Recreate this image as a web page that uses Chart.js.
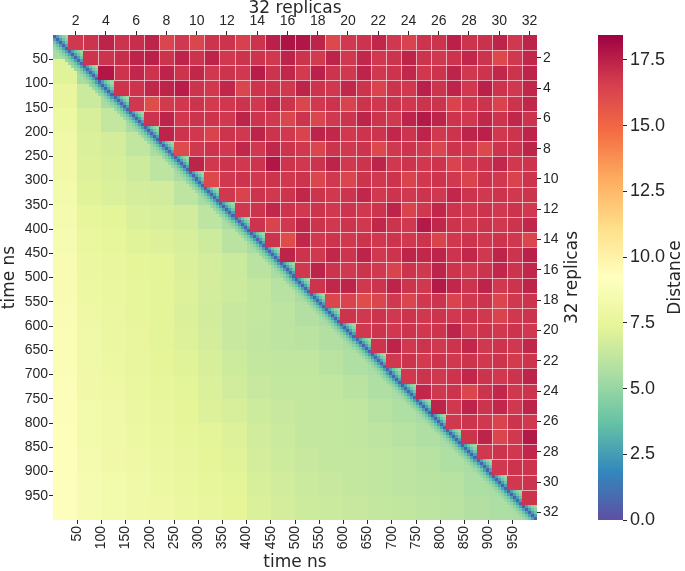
<!DOCTYPE html>
<html>
<head>
<meta charset="utf-8">
<script src="https://cdn.jsdelivr.net/npm/chart.js@4.4.1/dist/chart.umd.min.js"></script>
<style>
  html, body { margin: 0; padding: 0; background: #fff; }
  canvas { display: block; }
</style>
</head>
<body>
<canvas id="chart" width="685" height="571"></canvas>
<script>
// tick labels
const timeTicks = [50, 100, 150, 200, 250, 300, 350, 400, 450, 500, 550, 600, 650, 700, 750, 800, 850, 900, 950];
const replicaTicks = [2, 4, 6, 8, 10, 12, 14, 16, 18, 20, 22, 24, 26, 28, 30, 32];
const distanceTicks = [0, 2.5, 5, 7.5, 10, 12.5, 15, 17.5];
const distanceMax = 18.45;
const timeMax = 1000;
const replicaCount = 32;

// replica-replica distance, upper triangle: row a holds columns a+1 .. 32
const replicaDist = [
  [16.8,16.9,17.4,16.9,17.1,17.4,16.3,16.8,16.3,16.9,16.9,16.5,16.9,17.5,17.9,17.8,17.4,16.2,16.8,16.9,17.3,16.8,16.4,16.9,16.9,17.5,16.9,17.0,17.4,16.8,17.4],
  [16.9,16.9,17.1,17.4,17.5,16.9,17.4,16.9,17.4,16.8,16.9,16.9,16.8,17.4,16.9,16.7,17.4,16.8,17.3,16.8,16.9,17.4,16.9,16.8,16.9,17.3,16.9,16.2,16.8,17.3],
  [17.8,16.9,17.3,16.9,17.4,16.9,17.3,16.8,16.9,16.8,17.6,16.9,17.3,16.7,17.5,16.9,16.8,17.4,16.8,16.9,17.3,16.8,16.9,17.4,16.8,16.9,17.3,16.9,17.4],
  [16.9,16.9,17.3,17.4,17.6,16.9,16.8,17.3,16.3,16.9,16.9,16.8,17.4,16.9,16.8,17.3,16.9,16.4,16.9,16.8,17.5,16.9,17.4,16.8,17.5,16.9,16.8,17.3],
  [16.8,16.0,16.7,16.8,16.9,16.7,16.8,16.9,16.8,17.3,16.9,16.3,16.8,16.9,16.4,16.9,16.8,16.9,16.8,16.9,16.9,16.4,16.8,16.9,16.4,16.9,17.3],
  [16.9,17.4,16.8,16.9,16.9,16.8,17.4,16.9,16.8,16.3,16.9,16.3,16.8,16.9,17.4,16.9,16.8,17.4,17.7,17.4,16.9,16.8,17.3,16.9,17.3,16.9],
  [17.4,16.9,16.8,16.4,16.9,16.8,17.4,16.9,16.8,16.4,17.4,17.3,16.8,16.9,16.9,17.3,16.9,17.4,16.8,16.9,17.4,17.5,16.8,16.9,17.4],
  [16.1,16.8,16.9,16.8,17.3,16.8,17.3,16.9,16.8,16.3,16.9,16.8,16.9,16.2,16.8,16.9,16.8,16.3,16.9,16.8,16.2,16.9,16.9,17.4],
  [17.4,16.8,16.9,16.8,16.9,17.8,16.9,16.8,16.9,17.4,16.8,16.9,17.4,16.8,16.9,16.8,16.9,16.4,16.8,16.9,17.3,16.8,16.9],
  [16.2,16.8,16.9,16.8,16.9,16.8,16.9,16.3,16.8,16.3,16.9,16.8,16.9,16.4,16.8,16.9,16.8,16.4,16.9,16.8,16.4,16.9],
  [16.8,16.4,16.9,16.8,16.9,17.3,16.9,16.8,16.9,17.3,16.8,16.9,16.8,16.9,16.8,17.3,16.9,16.8,16.9,16.8,16.9],
  [16.8,16.9,17.3,16.9,16.8,16.9,16.8,16.9,16.8,16.9,17.4,16.4,16.8,17.3,16.9,16.8,16.9,16.8,16.9,16.8],
  [16.9,16.4,16.8,17.3,16.9,16.8,16.9,16.8,17.3,16.9,16.8,17.7,17.3,16.9,16.8,16.9,16.8,16.9,17.3],
  [16.9,16.0,17.3,16.8,16.9,16.8,16.9,16.8,16.9,16.8,16.9,16.4,16.8,16.9,16.8,16.9,16.8,16.3],
  [17.4,16.9,16.8,17.3,16.9,17.4,16.8,16.9,17.4,17.3,17.4,16.9,17.3,16.8,17.4,16.9,17.5],
  [16.8,17.4,16.9,16.8,16.9,16.8,16.4,16.9,16.8,17.4,16.9,16.8,16.9,17.3,16.9,17.3],
  [16.9,17.3,17.4,16.8,16.9,17.4,16.9,16.8,17.7,17.3,16.9,17.4,16.8,16.9,17.4],
  [16.3,16.4,16.0,16.3,16.8,16.3,16.8,16.9,16.4,16.8,16.9,16.3,16.8,16.9],
  [16.9,16.8,16.9,16.8,16.9,16.8,16.9,16.8,16.9,16.8,16.4,16.8,16.9],
  [16.8,16.9,16.8,16.9,16.8,16.9,17.4,16.8,16.9,16.8,16.9,16.8],
  [16.9,17.4,16.8,16.9,16.8,16.9,17.3,16.8,16.9,16.8,17.3],
  [16.8,16.9,16.7,16.9,16.8,16.9,16.8,16.9,16.7,16.9],
  [16.8,16.9,16.8,16.9,17.3,16.9,16.8,16.9,17.4],
  [17.3,16.8,16.9,16.3,16.9,17.3,16.8,16.9],
  [17.4,16.8,17.4,16.9,17.3,16.8,17.4],
  [16.8,16.9,16.8,16.4,16.9,16.8],
  [16.9,17.4,16.3,16.8,17.7],
  [16.8,16.9,16.8,17.3],
  [16.8,16.9,16.9],
  [16.8,16.9],
  [16.9]
];

// time-time distance, lower triangle in 50 ns bins: row i holds columns 0 .. i
const timeDist = [
  [5.5],
  [7.2,5.5],
  [7.6,6.5,5.5],
  [7.9,6.9,6.3,5.5],
  [8.1,7.0,6.8,6.2,5.5],
  [8.2,7.1,6.9,6.6,6.1,5.5],
  [8.3,7.2,7.0,6.8,6.7,6.1,5.5],
  [8.4,7.5,7.3,7.0,6.9,6.7,6.1,5.5],
  [8.5,7.7,7.5,7.2,7.1,6.9,6.6,6.0,5.5],
  [8.6,7.8,7.6,7.4,7.3,7.0,6.8,6.5,6.0,5.5],
  [8.6,7.9,7.7,7.5,7.3,7.1,6.8,6.6,6.3,5.9,5.5],
  [8.7,8.0,7.8,7.5,7.3,7.0,6.7,6.4,6.3,6.1,5.8,5.5],
  [8.8,8.1,7.8,7.6,7.3,7.1,6.8,6.4,6.2,6.1,6.0,5.8,5.5],
  [8.8,8.1,7.9,7.6,7.4,7.2,6.9,6.6,6.3,6.2,6.2,6.0,5.7,5.5],
  [8.9,8.2,8.0,7.7,7.5,7.3,7.0,6.7,6.4,6.3,6.3,6.2,6.0,5.7,5.5],
  [8.9,8.3,8.1,7.8,7.6,7.4,7.1,6.9,6.6,6.4,6.3,6.3,6.2,5.9,5.7,5.5],
  [9.0,8.3,8.1,7.9,7.7,7.5,7.3,7.1,6.7,6.5,6.3,6.3,6.2,6.1,5.9,5.7,5.5],
  [9.0,8.4,8.2,8.0,7.8,7.6,7.4,7.2,6.8,6.6,6.4,6.3,6.3,6.2,6.1,5.9,5.7,5.5],
  [9.1,8.5,8.3,8.1,7.9,7.7,7.5,7.3,6.9,6.7,6.5,6.4,6.3,6.2,6.1,6.0,5.9,5.6,5.5],
  [9.1,8.5,8.3,8.1,8.0,7.8,7.6,7.4,7.0,6.8,6.6,6.5,6.4,6.3,6.2,6.1,6.0,5.8,5.6,5.5]
];
// distance right next to the diagonal, by offset in fine steps (6.25 ns)
const diagBand = [0.6, 2.6, 3.9, 4.7, 5.2];
const fineStep = 6.25;

// matplotlib Spectral anchors
const spectral = [[158,1,66],[213,62,79],[244,109,67],[253,174,97],[254,224,139],[255,255,191],
                  [230,245,152],[171,221,164],[102,194,165],[50,136,189],[94,79,162]];

function spectralR(v) {
    let t = 1 - Math.min(Math.max(v / distanceMax, 0), 1);
    let p = t * 10;
    let i = Math.min(Math.floor(p), 9);
    let f = p - i;
    let a = spectral[i], b = spectral[i + 1];
    return 'rgb(' + Math.round(a[0] + (b[0] - a[0]) * f) + ',' + Math.round(a[1] + (b[1] - a[1]) * f) + ',' + Math.round(a[2] + (b[2] - a[2]) * f) + ')';
}

function timeValue(r, c) {
    let off = Math.abs(r - c);
    if (off < diagBand.length) return diagBand[off];
    let per = 50 / fineStep;
    let i = Math.floor(Math.max(r, c) / per), j = Math.floor(Math.min(r, c) / per);
    return timeDist[i][j];
}

const heatmap = {
    id: 'heatmap',
    beforeDraw(chart) {
        const ctx = chart.ctx;
        ctx.save();
        ctx.fillStyle = '#fff';
        ctx.fillRect(0, 0, chart.width, chart.height);
        ctx.restore();
    },
    beforeDatasetsDraw(chart) {
        const {ctx, scales: {x, y, x2, y2, cb}} = chart;
        ctx.save();
        // time matrix: lower triangle plus the diagonal replica blocks
        let n = timeMax / fineStep;
        let perBlock = n / replicaCount;
        for (let r = 0; r < n; r++) {
            let y0 = Math.round(y.getPixelForValue(r * fineStep));
            let y1 = Math.round(y.getPixelForValue((r + 1) * fineStep));
            for (let c = 0; c < n; c++) {
                if (c > r && Math.floor(c / perBlock) != Math.floor(r / perBlock)) continue;
                let x0 = Math.round(x.getPixelForValue(c * fineStep));
                let x1 = Math.round(x.getPixelForValue((c + 1) * fineStep));
                ctx.fillStyle = spectralR(timeValue(r, c));
                ctx.fillRect(x0, y0, x1 - x0, y1 - y0);
            }
        }
        // replica blocks, upper triangle
        for (let a = 0; a < replicaDist.length; a++) {
            let y0 = Math.round(y2.getPixelForValue(a));
            let y1 = Math.round(y2.getPixelForValue(a + 1));
            replicaDist[a].forEach(function (v, k) {
                let b = a + 1 + k;
                let x0 = Math.round(x2.getPixelForValue(b));
                let x1 = Math.round(x2.getPixelForValue(b + 1));
                ctx.fillStyle = spectralR(v);
                ctx.fillRect(x0, y0, x1 - x0, y1 - y0);
            });
        }
        // white lines between replica blocks
        ctx.strokeStyle = 'rgba(255,255,255,0.6)';
        ctx.lineWidth = 1;
        ctx.beginPath();
        for (let k = 2; k < replicaCount; k++) {
            let px = Math.round(x2.getPixelForValue(k)) + 0.5;
            ctx.moveTo(px, y2.getPixelForValue(0));
            ctx.lineTo(px, Math.round(y2.getPixelForValue(k - 1)));
        }
        for (let k = 1; k < replicaCount - 1; k++) {
            let py = Math.round(y2.getPixelForValue(k)) + 0.5;
            ctx.moveTo(Math.round(x2.getPixelForValue(k + 1)), py);
            ctx.lineTo(x2.getPixelForValue(replicaCount), py);
        }
        ctx.stroke();
        // colour bar
        let g = ctx.createLinearGradient(0, cb.getPixelForValue(0), 0, cb.getPixelForValue(distanceMax));
        for (let k = 0; k <= 10; k++) {
            let s = spectral[10 - k];
            g.addColorStop(k / 10, 'rgb(' + s[0] + ',' + s[1] + ',' + s[2] + ')');
        }
        ctx.fillStyle = g;
        ctx.fillRect(cb.left - 25, cb.top, 25, cb.bottom - cb.top);
        ctx.restore();
    },
    afterDraw(chart) {
        const {ctx, chartArea} = chart;
        let midX = (chartArea.left + chartArea.right) / 2;
        let midY = (chartArea.top + chartArea.bottom) / 2;
        ctx.save();
        ctx.fillStyle = '#262626';
        ctx.font = '17px "DejaVu Sans"';
        ctx.textAlign = 'center';
        ctx.textBaseline = 'alphabetic';
        ctx.fillText('32 replicas', midX, 13);
        ctx.fillText('time ns', midX, 567);
        ctx.textBaseline = 'middle';
        let side = [['time ns', 10], ['32 replicas', 573], ['Distance', 676]];
        side.forEach(function (s) {
            ctx.save();
            ctx.translate(s[1], midY);
            ctx.rotate(-Math.PI / 2);
            ctx.fillText(s[0], 0, 0);
            ctx.restore();
        });
        ctx.restore();
    }
};

function setTicks(values) {
    return function (scale) {
        scale.ticks = values.map(v => ({value: v}));
    };
}

const tickGrid = {drawOnChartArea: false, drawTicks: true, tickLength: 4, color: '#262626'};
const tickFont = {size: 14};

new Chart(document.getElementById('chart'), {
    type: 'scatter',
    data: {datasets: []},
    options: {
        responsive: false,
        animation: false,
        devicePixelRatio: 1,
        layout: {padding: 0},
        plugins: {legend: {display: false}, tooltip: {enabled: false}},
        scales: {
            x: {
                type: 'linear', position: 'bottom', min: 0, max: timeMax,
                grid: tickGrid, border: {display: false},
                afterBuildTicks: setTicks(timeTicks),
                afterFit: s => { s.height = 51; },
                ticks: {font: tickFont, color: '#262626', autoSkip: false, minRotation: 90, maxRotation: 90, padding: 2}
            },
            x2: {
                type: 'linear', axis: 'x', position: 'top', min: 0, max: replicaCount,
                grid: tickGrid, border: {display: false},
                afterBuildTicks: setTicks(replicaTicks.map(v => v - 0.5)),
                afterFit: s => { s.height = 35; },
                ticks: {font: tickFont, color: '#262626', autoSkip: false, maxRotation: 0, padding: 1,
                        callback: v => String(v + 0.5)}
            },
            y: {
                type: 'linear', position: 'left', min: 0, max: timeMax, reverse: true,
                grid: tickGrid, border: {display: false},
                afterBuildTicks: setTicks(timeTicks),
                afterFit: s => { s.width = 53; },
                ticks: {font: tickFont, color: '#262626', autoSkip: false, padding: 1}
            },
            y2: {
                type: 'linear', axis: 'y', position: 'right', min: 0, max: replicaCount, reverse: true,
                weight: 0,
                grid: tickGrid, border: {display: false},
                afterBuildTicks: setTicks(replicaTicks.map(v => v - 0.5)),
                afterFit: s => { s.width = 86; },
                ticks: {font: tickFont, color: '#262626', autoSkip: false, padding: 2,
                        callback: v => String(v + 0.5)}
            },
            cb: {
                type: 'linear', axis: 'y', position: 'right', min: 0, max: distanceMax,
                weight: 1,
                grid: tickGrid, border: {display: false},
                afterBuildTicks: setTicks(distanceTicks),
                afterFit: s => { s.width = 62; },
                ticks: {font: {size: 18}, color: '#262626', autoSkip: false, padding: 3,
                        callback: v => v.toFixed(1)}
            }
        }
    },
    plugins: [heatmap]
});
</script>
</body>
</html>
